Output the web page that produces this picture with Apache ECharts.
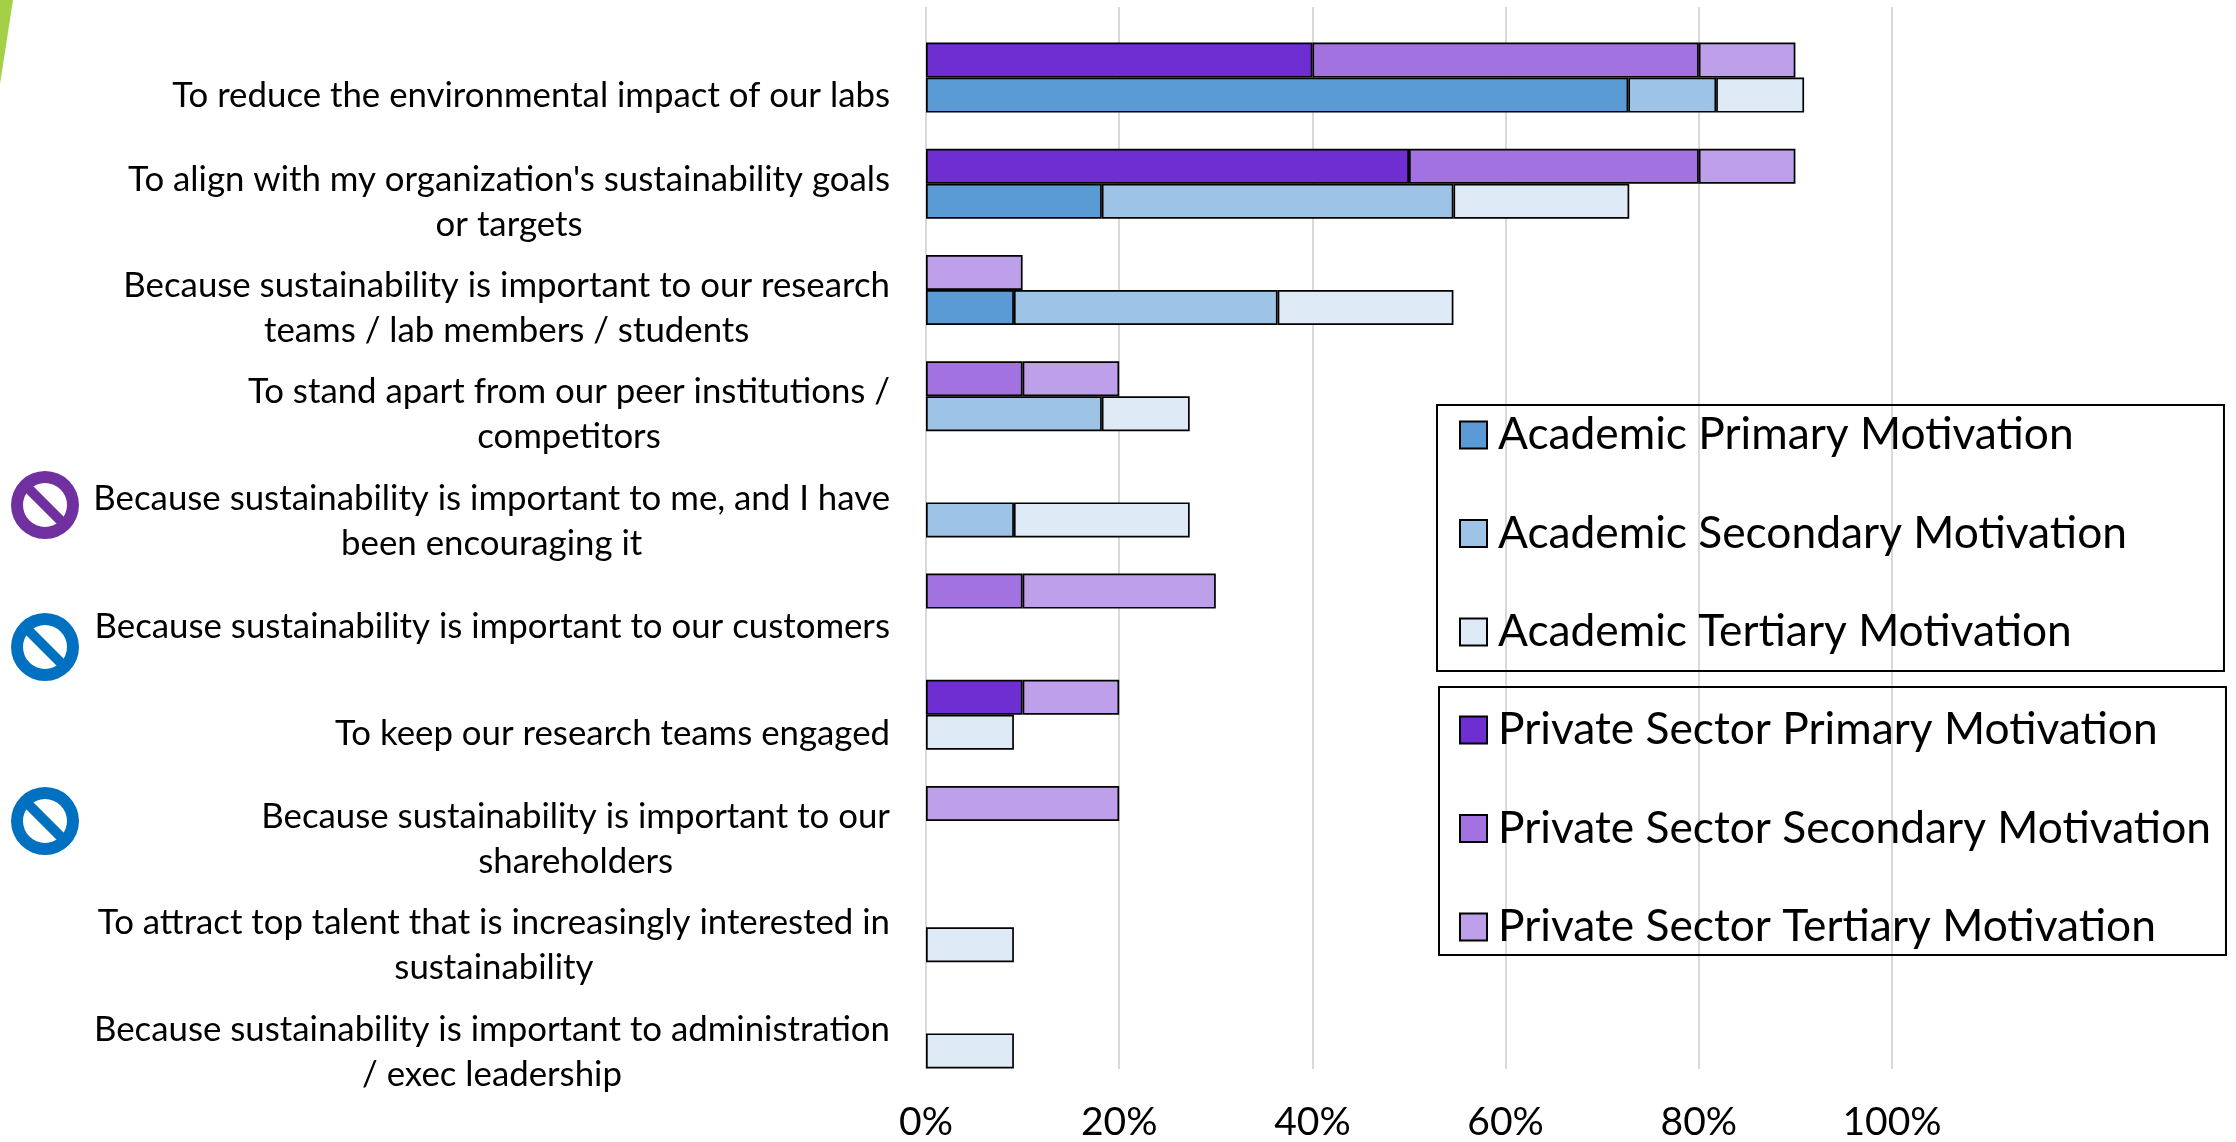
<!DOCTYPE html>
<html>
<head>
<meta charset="utf-8">
<style>html,body{margin:0;padding:0;background:#fff}#c{width:2236px;height:1142px}</style>
<script src="https://cdn.jsdelivr.net/npm/echarts@6/dist/echarts.min.js"></script>
</head>
<body>
<div id="c"></div>
<script>
const categories = [
  "To reduce the environmental impact of our labs",
  "To align with my organization's sustainability goals\nor targets",
  "Because sustainability is important to our research\nteams / lab members / students",
  "To stand apart from our peer institutions /\ncompetitors",
  "Because sustainability is important to me, and I have\nbeen encouraging it",
  "Because sustainability is important to our customers",
  "To keep our research teams engaged",
  "Because sustainability is important to our\nshareholders",
  "To attract top talent that is increasingly interested in\nsustainability",
  "Because sustainability is important to administration\n/ exec leadership"
];
const privatePrimary   = [40, 50, null, null, null, null, 10, null, null, null];
const privateSecondary = [40, 30, null, 10, null, 10, null, null, null, null];
const privateTertiary  = [10, 10, 10, 10, null, 20, 10, 20, null, null];
const academicPrimary   = [72.7, 18.2, 9.1, null, null, null, null, null, null, null];
const academicSecondary = [9.1, 36.4, 27.3, 18.2, 9.1, null, null, null, null, null];
const academicTertiary  = [9.1, 18.2, 18.2, 9.1, 18.2, null, 9.1, null, 9.1, 9.1];
const xTicks = [0, 20, 40, 60, 80, 100];

const FONT = 'Lato';
function bar(name, data, stack, color) {
  return { name, type: 'bar', stack, data, barWidth: 35, barGap: 0,
    itemStyle: { color, borderColor: '#000', borderWidth: 1.7 }, emphasis: { disabled: true } };
}
const legendText = { fontSize: 44.3, color: '#000', fontFamily: FONT, padding: [0, 0, 0, 6] };
const option = {
  animation: false,
  backgroundColor: '#fff',
  textStyle: { fontFamily: FONT },
  grid: { left: 926, top: 7, width: 966, height: 1063, containLabel: false },
  xAxis: {
    type: 'value', min: 0, max: 100, interval: 20,
    axisLine: { show: false }, axisTick: { show: false },
    axisLabel: { formatter: v => xTicks.includes(v) ? v + '%' : '', fontSize: 39, color: '#000', margin: 34, fontFamily: FONT },
    splitLine: { show: true, lineStyle: { color: '#D9D9D9', width: 2 } }
  },
  yAxis: {
    type: 'category', inverse: true, data: categories,
    axisLine: { show: false }, axisTick: { show: false },
    axisLabel: {
      interval: 0, margin: 36, align: 'right', padding: [72, 0, 0, 0],
      formatter: v => v.split('\n').map(l => '{c|' + l + '}').join('\n'),
      rich: { c: { align: 'center', fontSize: 34.8, lineHeight: 45, color: '#000', fontFamily: FONT } }
    }
  },
  legend: [
    { data: ['Academic Primary Motivation', 'Academic Secondary Motivation', 'Academic Tertiary Motivation'],
      orient: 'vertical', left: 1437, top: 405, itemWidth: 27, itemHeight: 27, itemGap: 54.5, icon: 'rect',
      align: 'left', padding: [8, 97, 17, 22], borderColor: '#000', borderWidth: 2,
      selectedMode: false, textStyle: legendText },
    { data: ['Private Sector Primary Motivation', 'Private Sector Secondary Motivation', 'Private Sector Tertiary Motivation'],
      orient: 'vertical', left: 1439, top: 687, itemWidth: 27, itemHeight: 27, itemGap: 54.5, icon: 'rect',
      align: 'left', padding: [21, 15, 6, 20], borderColor: '#000', borderWidth: 2,
      selectedMode: false, textStyle: legendText }
  ],
  series: [
    { name: 'Spacer', type: 'bar', stack: 'spacer', data: [], barWidth: 35, barGap: 0 },
    bar('Private Sector Primary Motivation', privatePrimary, 'private', '#6E2ED1'),
    bar('Private Sector Secondary Motivation', privateSecondary, 'private', '#A273E0'),
    bar('Private Sector Tertiary Motivation', privateTertiary, 'private', '#BE9FE9'),
    bar('Academic Primary Motivation', academicPrimary, 'academic', '#5B9BD5'),
    bar('Academic Secondary Motivation', academicSecondary, 'academic', '#9DC3E6'),
    bar('Academic Tertiary Motivation', academicTertiary, 'academic', '#DEEBF7')
  ],
  graphic: [
    { type: 'polygon', shape: { points: [[0, 0], [13, 0], [0, 84]] }, style: { fill: '#A2D145' }, silent: true },
    ...[[505, '#7030A0'], [647, '#0070C0'], [821, '#0070C0']].flatMap(([cy, col]) => [
      { type: 'ring', shape: { cx: 45, cy, r: 34, r0: 22 }, style: { fill: col }, silent: true },
      { type: 'line', shape: { x1: 27, y1: cy - 18, x2: 63, y2: cy + 18 }, style: { stroke: col, lineWidth: 10 }, silent: true }
    ])
  ]
};
echarts.init(document.getElementById('c'), null, { renderer: 'canvas' }).setOption(option);
</script>
</body>
</html>
